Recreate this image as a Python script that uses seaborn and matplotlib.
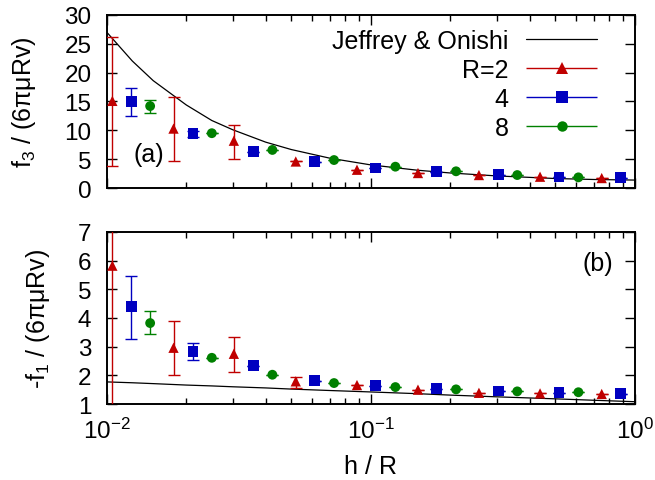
import numpy as np
import pandas as pd
import matplotlib
matplotlib.use("Agg")
import matplotlib.pyplot as plt
import seaborn as sns
from matplotlib.ticker import LogLocator, NullFormatter, LogFormatterMathtext
from matplotlib.legend_handler import HandlerErrorbar
from matplotlib.container import ErrorbarContainer

# --- data ---
series = [2, 4, 8]

h_R2 = [0.0105, 0.0179, 0.0303, 0.052, 0.0887, 0.151, 0.257, 0.438, 0.750]
h_R4 = [0.0124, 0.0212, 0.0359, 0.0614, 0.104, 0.177, 0.305, 0.517, 0.885]
h_R8 = [0.0146, 0.0250, 0.0424, 0.0726, 0.124, 0.2105, 0.359, 0.612]

f3_R2 = [15.1, 10.3, 8.2, 4.6, 3.17, 2.6, 2.25, 1.96, 1.73]
f3_R4 = [15.0, 9.4, 6.3, 4.56, 3.47, 2.83, 2.3, 1.9, 1.8]
f3_R8 = [14.2, 9.5, 6.6, 4.85, 3.7, 2.9, 2.25, 1.85]
f3_lo_R2 = [3.75, 4.7, 4.97, 4.6, 3.17, 2.6, 2.25, 1.96, 1.73]
f3_hi_R2 = [26.1, 15.8, 10.9, 4.6, 3.17, 2.6, 2.25, 1.96, 1.73]
f3_lo_R4 = [12.4, 8.9, 6.3, 4.56, 3.47, 2.83, 2.3, 1.9, 1.8]
f3_hi_R4 = [17.3, 9.9, 6.3, 4.56, 3.47, 2.83, 2.3, 1.9, 1.8]
f3_lo_R8 = [13.0, 9.5, 6.6, 4.85, 3.7, 2.9, 2.25, 1.85]
f3_hi_R8 = [15.2, 9.5, 6.6, 4.85, 3.7, 2.9, 2.25, 1.85]

f1_R2 = [5.82, 2.96, 2.75, 1.79, 1.66, 1.50, 1.39, 1.37, 1.35]
f1_R4 = [4.39, 2.82, 2.33, 1.81, 1.64, 1.53, 1.45, 1.39, 1.36]
f1_R8 = [3.82, 2.61, 2.02, 1.73, 1.59, 1.51, 1.44, 1.41]
f1_lo_R2 = [0.3, 2.0, 2.13, 1.56, 1.66, 1.50, 1.39, 1.37, 1.35]
f1_hi_R2 = [11.3, 3.89, 3.32, 1.93, 1.66, 1.50, 1.39, 1.37, 1.35]
f1_lo_R4 = [3.26, 2.52, 2.33, 1.81, 1.64, 1.53, 1.45, 1.39, 1.36]
f1_hi_R4 = [5.47, 3.14, 2.33, 1.81, 1.64, 1.53, 1.45, 1.39, 1.36]
f1_lo_R8 = [3.43, 2.61, 2.02, 1.73, 1.59, 1.51, 1.44, 1.41]
f1_hi_R8 = [4.23, 2.61, 2.02, 1.73, 1.59, 1.51, 1.44, 1.41]

# Jeffrey & Onishi curves
jo_h = [0.01, 0.0125, 0.015, 0.02, 0.025, 0.03, 0.04, 0.05, 0.07, 0.1,
        0.15, 0.2, 0.3, 0.5, 0.7, 1.0]
jo_f3 = [27.0, 22.0, 18.6, 14.4, 11.7, 10.1, 7.95, 6.67, 5.17, 4.01,
         3.09, 2.61, 2.10, 1.65, 1.48, 1.38]
jo_f1 = [1.77, 1.74, 1.71, 1.66, 1.63, 1.60, 1.56, 1.52, 1.47, 1.42,
         1.36, 1.31, 1.25, 1.18, 1.13, 1.08]

colors = {2: "#c00000", 4: "#0000c0", 8: "#008000"}
markers = {2: "^", 4: "s", 8: "o"}
msizes = {2: 55, 4: 60, 8: 50}

h_all = {2: h_R2, 4: h_R4, 8: h_R8}
f3_all = {2: (f3_R2, f3_lo_R2, f3_hi_R2), 4: (f3_R4, f3_lo_R4, f3_hi_R4), 8: (f3_R8, f3_lo_R8, f3_hi_R8)}
f1_all = {2: (f1_R2, f1_lo_R2, f1_hi_R2), 4: (f1_R4, f1_lo_R4, f1_hi_R4), 8: (f1_R8, f1_lo_R8, f1_hi_R8)}

rows = []
for r in series:
    for i, h in enumerate(h_all[r]):
        rows.append({"R": r, "h": h, "f3": f3_all[r][0][i], "f1": f1_all[r][0][i]})
df = pd.DataFrame(rows)
jo = pd.DataFrame({"h": jo_h, "f3": jo_f3, "f1": jo_f1})

# --- style ---
sns.set_style("ticks")
plt.rcParams['font.family'] = ['Liberation Sans', 'DejaVu Sans']
plt.rcParams['mathtext.default'] = 'regular'
for key in ['text.color', 'axes.labelcolor', 'xtick.color', 'ytick.color',
            'axes.edgecolor', 'xtick.labelcolor', 'ytick.labelcolor']:
    plt.rcParams[key] = 'black'
FS = 18

fig = plt.figure(figsize=(6.55, 4.81), dpi=100, facecolor='white')
ax1 = fig.add_axes([0.163, 0.607, 0.806, 0.360])
ax2 = fig.add_axes([0.163, 0.158, 0.806, 0.358])


def draw_panel(ax, col, data_all, jo_col):
    sns.lineplot(data=jo, x="h", y=jo_col, color="black", lw=0.9, ax=ax, zorder=2)
    for r in series:
        vals, lo, hi = data_all[r]
        vals = np.array(vals)
        yerr = np.vstack([vals - np.array(lo), np.array(hi) - vals])
        ax.errorbar(h_all[r], vals, yerr=yerr, fmt='none', ecolor=colors[r],
                    elinewidth=1.0, capsize=4.5, capthick=1.0, zorder=3)
    sns.scatterplot(data=df, x="h", y=col, hue="R", style="R", palette=colors,
                    markers=markers, size="R", sizes=msizes, linewidth=0,
                    legend=False, ax=ax, zorder=4)
    ax.set_xscale("log")
    ax.set_xlim(0.01, 1.0)
    ax.xaxis.set_major_locator(LogLocator(base=10, numticks=10))
    ax.xaxis.set_minor_locator(LogLocator(base=10, subs=np.arange(2, 10), numticks=20))
    ax.xaxis.set_minor_formatter(NullFormatter())
    ax.tick_params(which='both', direction='in', top=True, right=True,
                   labelsize=17.5, width=1.0, color='black', labelcolor='black')
    ax.tick_params(which='major', length=7)
    ax.tick_params(which='minor', length=4)
    ax.tick_params(axis='y', pad=11)
    ax.tick_params(axis='x', pad=10)
    for s in ax.spines.values():
        s.set_linewidth(1.4)
        s.set_color('black')
        s.set_visible(True)
    ax.set_xlabel("")


draw_panel(ax1, "f3", f3_all, "f3")
draw_panel(ax2, "f1", f1_all, "f1")

ax1.set_ylim(0, 30)
ax1.set_yticks([0, 5, 10, 15, 20, 25, 30])
ax1.tick_params(axis='x', labelbottom=False)
ax1.set_ylabel("f$_3$ / (6πμRv)", fontsize=FS, labelpad=19, color='black')
ax1.text(0.0144, 5.9, "(a)", fontsize=FS, ha='center', va='center', color='black')

ax2.set_ylim(1, 7)
ax2.set_yticks([1, 2, 3, 4, 5, 6, 7])
ax2.xaxis.set_major_formatter(LogFormatterMathtext())
ax2.set_ylabel("-f$_1$ / (6πμRv)", fontsize=FS, labelpad=19, color='black')
ax2.set_xlabel("h / R", fontsize=FS, labelpad=8, color='black')
ax2.text(0.96, 0.82, "(b)", fontsize=FS, ha='right', va='center',
         transform=ax2.transAxes, color='black')

# legend with horizontal error-bar samples
handles = []
jo_line, = ax1.plot([], [], color='black', lw=0.9, label="Jeffrey & Onishi")
handles.append(jo_line)
for r, lab in zip(series, ["R=2", "4", "8"]):
    eb = ax1.errorbar([np.nan], [np.nan], xerr=[1.0], fmt=markers[r], color=colors[r],
                      ms=8 if r != 8 else 7.5, mew=0, elinewidth=1.0,
                      capsize=4, capthick=1.0, label=lab)
    handles.append(eb)
leg = ax1.legend(handles=handles, loc='upper right', bbox_to_anchor=(0.955, 1.0),
                 frameon=False, markerfirst=False, fontsize=FS, handlelength=2.85,
                 handletextpad=0.7, labelspacing=0.2, borderaxespad=0.15,
                 handler_map={ErrorbarContainer: HandlerErrorbar(xerr_size=1.42)})
for t in leg.get_texts():
    t.set_color('black')

plt.savefig("out.png", dpi=100, facecolor='white')
plt.close()
